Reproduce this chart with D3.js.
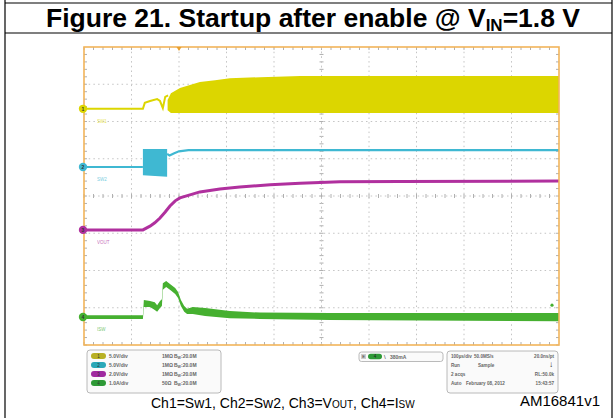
<!DOCTYPE html>
<html><head><meta charset="utf-8">
<script src="https://cdn.jsdelivr.net/npm/d3@7/dist/d3.min.js"></script>
<style>html,body{margin:0;padding:0;background:#fff;}svg{display:block;font-family:"Liberation Sans",Arial,sans-serif;}</style>
</head><body><svg id="c" width="616" height="418"></svg>
<script>
// ---- data (time in µs, 100 µs/div; amplitude in screen divisions) ----
const timeDomain = [0, 1000];
const divDomain = [0, 8];
const channels = ["1", "2", "3", "4"];
const channelNames = ["SW1", "SW2", "VOUT", "ISW"];
const channelOffsets = [6.34, 4.78, 3.09, 0.75];
const ch1Line = [[0,6.34],[124,6.34],[128,6.50],[139,6.55],[154,6.60],[160,6.55],[166,6.36],[171,6.66],[177,6.70]];
const ch1Band = [[176,6.30,6.58],[183,6.23,6.76],[202,6.23,6.90],[223,6.23,6.98],[244,6.23,7.06],[276,6.23,7.11],[307,6.23,7.16],[371,6.23,7.19],[455,6.23,7.22],[1000,6.23,7.22]];
const ch2Line = [[0,4.78],[124,4.78]];
const ch2Burst = [[124,4.56,5.26],[175,4.52,5.26]];
const ch2Tail = [[175,5.13],[180,5.09],[190,5.15],[200,5.20],[220,5.23],[1000,5.23]];
const ch3Line = [[0,3.09],[124,3.09],[139,3.19],[149,3.28],[160,3.41],[171,3.57],[181,3.73],[192,3.87],[202,3.95],[223,4.03],[244,4.11],[286,4.19],[328,4.24],[392,4.30],[455,4.34],[539,4.38],[665,4.39],[1000,4.40]];
const ch4Band = [[0,0.70,0.80],[124,0.70,0.80],[126,1.02,1.21],[139,1.02,1.18],[149,0.94,1.15],[154,0.89,1.07],[160,0.99,1.18],[164,1.05,1.23],[166,1.48,1.66],[173,1.56,1.72],[181,1.48,1.64],[192,1.37,1.53],[198,1.26,1.42],[204,1.05,1.21],[211,0.89,1.05],[217,0.83,0.97],[229,0.83,1.02],[255,0.78,0.99],[307,0.72,0.91],[371,0.70,0.87],[518,0.67,0.86],[1000,0.64,0.86]];
const triggerTime = 200;
const triggerLevel = 1.07;
const scaleLabels = ["5.0V/div", "5.0V/div", "2.0V/div", "1.0A/div"];
const impedances = ["1MΩ", "1MΩ", "1MΩ", "50Ω"];
const bandwidths = ["20.0M", "20.0M", "20.0M", "20.0M"];
const triggerText = "380mA";
const acqRows = [["100µs/div", "50.0MS/s", "20.0ns/pt"], ["Run", "Sample", "↓"], ["2 acqs", "", "RL:50.0k"], ["Auto", "February 08, 2012", "15:43:57"]];
const colors = ["#dcd600", "#3fb8d2", "#b0309e", "#46b030"];
const pillColors = ["#b8b024", "#2aa8b8", "#a02aa0", "#2e9a36"];

const svg = d3.select("#c");
const W = 616, H = 418;
const L = 84, R = 559, T = 47, B = 345;
const x = d3.scaleLinear().domain(timeDomain).range([L, R]);
const y = d3.scaleLinear().domain(divDomain).range([B, T]);

// frame
const fr = svg.append("g").attr("stroke", "#000").attr("stroke-width", 1.2);
fr.append("line").attr("x1", 5).attr("x2", 5).attr("y1", 0).attr("y2", H);
fr.append("line").attr("x1", 612).attr("x2", 612).attr("y1", 0).attr("y2", H);
fr.append("line").attr("x1", 5).attr("x2", 612).attr("y1", 33).attr("y2", 33);
fr.append("line").attr("x1", 5).attr("x2", 612).attr("y1", 3).attr("y2", 3);

// title
const title = svg.append("text").attr("x", 313).attr("y", 27).attr("text-anchor", "middle")
  .attr("font-size", 26.5).attr("font-weight", "bold").attr("fill", "#000");
title.append("tspan").text("Figure 21. Startup after enable @ V");
title.append("tspan").attr("font-size", 17).attr("dy", 4).text("IN");
title.append("tspan").attr("dy", -4).text("=1.8 V");

// grid
const g = svg.append("g");
const xDivs = d3.range(0, 11), yDivs = d3.range(0, 9);
g.selectAll(".vg").data(xDivs.slice(1, 10)).join("line")
  .attr("x1", d => x(d * 100)).attr("x2", d => x(d * 100)).attr("y1", T).attr("y2", B)
  .attr("stroke", "#c4c4c4").attr("stroke-width", 1).attr("stroke-dasharray", "1.5,3.2");
g.selectAll(".hg").data(yDivs.slice(1, 8)).join("line")
  .attr("x1", L).attr("x2", R).attr("y1", d => y(d)).attr("y2", d => y(d))
  .attr("stroke", "#c4c4c4").attr("stroke-width", 1).attr("stroke-dasharray", "1.5,3.2");
// minor ticks on borders and center lines
const minorX = d3.range(0, 50).map(i => i * 20);
const minorY = d3.range(0, 40).map(i => i * 0.2);
const tk = g.append("g").attr("stroke", "#b0b0b0").attr("stroke-width", 1);
minorX.forEach(t => {
  tk.append("line").attr("x1", x(t)).attr("x2", x(t)).attr("y1", T).attr("y2", T + 3);
  tk.append("line").attr("x1", x(t)).attr("x2", x(t)).attr("y1", B).attr("y2", B - 3);
  tk.append("line").attr("x1", x(t)).attr("x2", x(t)).attr("y1", y(4) - 2).attr("y2", y(4) + 2);
});
minorY.forEach(v => {
  tk.append("line").attr("x1", L).attr("x2", L + 3).attr("y1", y(v)).attr("y2", y(v));
  tk.append("line").attr("x1", R).attr("x2", R - 3).attr("y1", y(v)).attr("y2", y(v));
  tk.append("line").attr("x1", x(500) - 2).attr("x2", x(500) + 2).attr("y1", y(v)).attr("y2", y(v));
});
g.append("line").attr("x1", x(500)).attr("x2", x(500)).attr("y1", T).attr("y2", B).attr("stroke", "#c8c8c8").attr("stroke-dasharray", "1.5,3.2");

// traces
const line = d3.line().x(d => x(d[0])).y(d => y(d[1]));
const area = d3.area().x(d => x(d[0])).y0(d => y(d[1])).y1(d => y(d[2]));
const tr = svg.append("g");
tr.append("path").attr("d", area(ch1Band)).attr("fill", colors[0]);
tr.append("path").attr("d", line(ch1Line)).attr("fill", "none").attr("stroke", colors[0]).attr("stroke-width", 2);
tr.append("path").attr("d", area(ch2Burst)).attr("fill", colors[1]);
tr.append("path").attr("d", line(ch2Line)).attr("fill", "none").attr("stroke", colors[1]).attr("stroke-width", 2);
tr.append("path").attr("d", line(ch2Tail)).attr("fill", "none").attr("stroke", colors[1]).attr("stroke-width", 2.2);
tr.append("path").attr("d", line(ch3Line)).attr("fill", "none").attr("stroke", colors[2]).attr("stroke-width", 3);
tr.append("path").attr("d", area(ch4Band)).attr("fill", colors[3]);

// plot border
svg.append("rect").attr("x", L).attr("y", T).attr("width", R - L).attr("height", B - T)
  .attr("fill", "none").attr("stroke", "#f2b45a").attr("stroke-width", 1.6);

// channel markers and labels
const mk = svg.append("g");
channels.forEach((c, i) => {
  mk.append("circle").attr("cx", L - 1).attr("cy", y(channelOffsets[i])).attr("r", 4.2).attr("fill", colors[i]);
  mk.append("text").attr("x", L - 1).attr("y", y(channelOffsets[i]) + 1.8).attr("text-anchor", "middle")
    .attr("font-size", 5).attr("font-weight", "bold").attr("fill", "#333").text(c);
  mk.append("text").attr("x", L + 13).attr("y", y(channelOffsets[i]) + 14).attr("font-size", 4.5)
    .attr("fill", colors[i]).attr("opacity", 0.7).text(channelNames[i]);
});
// trigger markers
svg.append("path").attr("d", `M${x(triggerTime) - 2.5},${T} L${x(triggerTime) + 2.5},${T} L${x(triggerTime)},${T + 4}Z`).attr("fill", "#e8a030");
svg.append("circle").attr("cx", R - 7).attr("cy", y(triggerLevel)).attr("r", 1.6).attr("fill", colors[3]);

// legend box 1
const lb = svg.append("g");
lb.append("rect").attr("x", 87).attr("y", 350).attr("width", 134).attr("height", 43).attr("rx", 3)
  .attr("fill", "#fafafa").attr("stroke", "#a8a8a8").attr("stroke-width", 0.8);
const rowsY = [356, 365, 374, 383];
channels.forEach((c, i) => {
  lb.append("rect").attr("x", 91).attr("y", rowsY[i] - 3).attr("width", 15).attr("height", 6).attr("rx", 3).attr("fill", pillColors[i]);
  lb.append("text").attr("x", 98.5).attr("y", rowsY[i] + 1.6).attr("text-anchor", "middle").attr("font-size", 4.5).attr("fill", "#333").text(c);
  lb.append("text").attr("x", 109).attr("y", rowsY[i] + 1.8).attr("font-size", 5).attr("font-weight", "bold").attr("fill", "#666").text(scaleLabels[i]);
  lb.append("text").attr("x", 162).attr("y", rowsY[i] + 1.8).attr("font-size", 5).attr("font-weight", "bold").attr("fill", "#666").text(impedances[i]);
  lb.append("text").attr("x", 174).attr("y", rowsY[i] + 1.8).attr("font-size", 5).attr("font-weight", "bold").attr("fill", "#666").text("B");
  lb.append("text").attr("x", 177.5).attr("y", rowsY[i] + 2.8).attr("font-size", 3.5).attr("font-weight", "bold").attr("fill", "#666").text("W");
  lb.append("text").attr("x", 181).attr("y", rowsY[i] + 1.8).attr("font-size", 5).attr("font-weight", "bold").attr("fill", "#666").text(":" + bandwidths[i]);
});

// legend box 2 (trigger)
lb.append("rect").attr("x", 359).attr("y", 352).attr("width", 84).attr("height", 9.5).attr("rx", 2.5)
  .attr("fill", "#fafafa").attr("stroke", "#a8a8a8").attr("stroke-width", 0.8);
lb.append("rect").attr("x", 361).attr("y", 354).attr("width", 5).attr("height", 5).attr("fill", "#ccc");
lb.append("text").attr("x", 363.5).attr("y", 358.3).attr("text-anchor", "middle").attr("font-size", 4).attr("fill", "#333").text("E");
lb.append("rect").attr("x", 368).attr("y", 353.8).attr("width", 14).attr("height", 5.5).attr("rx", 2.7).attr("fill", pillColors[3]);
lb.append("text").attr("x", 375).attr("y", 358.2).attr("text-anchor", "middle").attr("font-size", 4.5).attr("fill", "#222").text("4");
lb.append("text").attr("x", 384).attr("y", 358.6).attr("font-size", 6).attr("fill", "#333").text("\\");
lb.append("text").attr("x", 390).attr("y", 358.6).attr("font-size", 5).attr("font-weight", "bold").attr("fill", "#666").text(triggerText);

// legend box 3 (acquisition)
lb.append("rect").attr("x", 447).attr("y", 351).attr("width", 111).attr("height", 42).attr("rx", 3)
  .attr("fill", "#fafafa").attr("stroke", "#a8a8a8").attr("stroke-width", 0.8);
const acqX = [[451, 474, 554], [451, 478, 551], [451, 0, 554], [451, 466, 554]];
acqRows.forEach((r, i) => {
  r.forEach((s, j) => {
    if (!s) return;
    const t = lb.append("text").attr("x", acqX[i][j]).attr("y", rowsY[i] + 1.8)
      .attr("font-size", j === 2 && i === 1 ? 8 : 4.6).attr("font-weight", "bold")
      .attr("fill", j === 2 && i === 1 ? "#222" : "#666").text(s);
    if (j === 2) t.attr("text-anchor", i === 1 ? "middle" : "end");
  });
});

// caption
const cap = svg.append("text").attr("x", 151).attr("y", 408).attr("font-size", 14).attr("fill", "#000");
cap.append("tspan").text("Ch1=Sw1, Ch2=Sw2, Ch3=V");
cap.append("tspan").attr("font-size", 10).text("OUT");
cap.append("tspan").text(", Ch4=I");
cap.append("tspan").attr("font-size", 10).text("SW");
svg.append("text").attr("x", 600).attr("y", 406).attr("text-anchor", "end").attr("font-size", 15).attr("fill", "#000").text("AM16841v1");
</script></body></html>
